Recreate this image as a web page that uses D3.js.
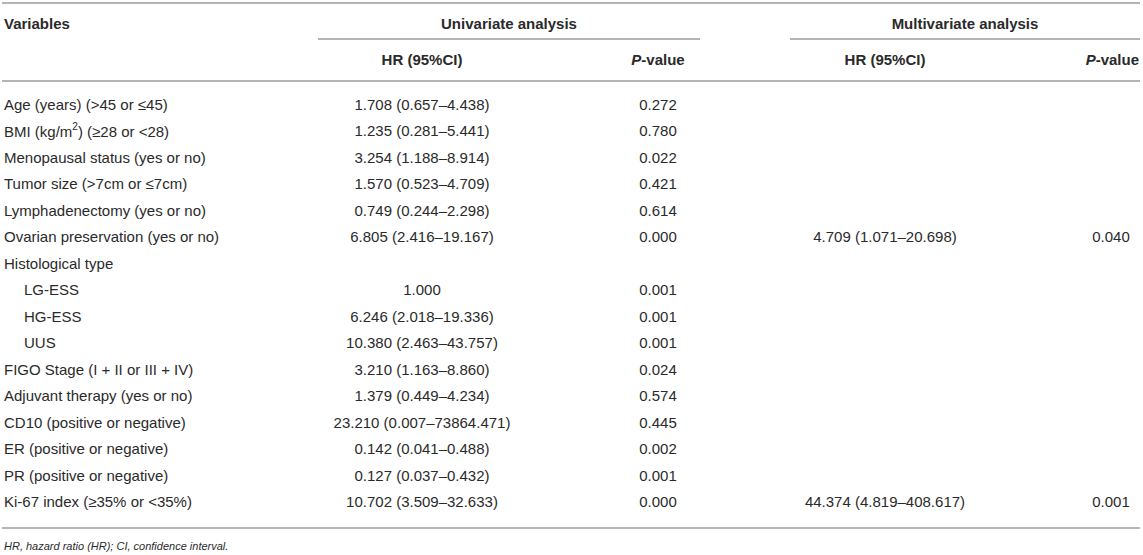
<!DOCTYPE html>
<html>
<head>
<meta charset="utf-8">
<script src="https://cdn.jsdelivr.net/npm/d3@7"></script>
<style>
  html, body { margin: 0; padding: 0; background: #fff; }
  svg { display: block; font-family: "Liberation Sans", Arial, Helvetica, sans-serif; }
</style>
</head>
<body>
<div id="table"></div>
<script>
// donnees du tableau

const variables = [
    "Age (years) (>45 or ≤45)",
    "BMI (kg/m^2) (≥28 or <28)",
    "Menopausal status (yes or no)",
    "Tumor size (>7cm or ≤7cm)",
    "Lymphadenectomy (yes or no)",
    "Ovarian preservation (yes or no)",
    "Histological type",
    "LG-ESS",
    "HG-ESS",
    "UUS",
    "FIGO Stage (I + II or III + IV)",
    "Adjuvant therapy (yes or no)",
    "CD10 (positive or negative)",
    "ER (positive or negative)",
    "PR (positive or negative)",
    "Ki-67 index (≥35% or <35%)"
];

// sous-categories du type histologique (affichees en retrait)
const subTypes = ["LG-ESS", "HG-ESS", "UUS"];

const uniHR = [
    "1.708 (0.657–4.438)", "1.235 (0.281–5.441)", "3.254 (1.188–8.914)", "1.570 (0.523–4.709)",
    "0.749 (0.244–2.298)", "6.805 (2.416–19.167)", "", "1.000", "6.246 (2.018–19.336)",
    "10.380 (2.463–43.757)", "3.210 (1.163–8.860)", "1.379 (0.449–4.234)",
    "23.210 (0.007–73864.471)", "0.142 (0.041–0.488)", "0.127 (0.037–0.432)", "10.702 (3.509–32.633)"
];

const uniP = [
    "0.272", "0.780", "0.022", "0.421", "0.614", "0.000", "", "0.001", "0.001",
    "0.001", "0.024", "0.574", "0.445", "0.002", "0.001", "0.000"
];

const multiHR = [
    "", "", "", "", "", "4.709 (1.071–20.698)", "", "", "",
    "", "", "", "", "", "", "44.374 (4.819–408.617)"
];

const multiP = [
    "", "", "", "", "", "0.040", "", "", "",
    "", "", "", "", "", "", "0.001"
];

const groups = ["Univariate analysis", "Multivariate analysis"];
const columns = ["uniHR", "uniP", "multiHR", "multiP"];
const columnTitles = ["HR (95%CI)", "P-value", "HR (95%CI)", "P-value"];
const footnote = "HR, hazard ratio (HR); CI, confidence interval.";

// mise en page

const width = 1143,
    height = 555,
    textColor = "#2a2a2a",
    ruleColor = "#b4b4b4",
    fontSize = 15;

const svg = d3.select("#table").append("svg")
    .attr("width", width)
    .attr("height", height);

// position verticale des lignes du tableau
const y = d3.scalePoint()
    .domain(d3.range(variables.length))
    .range([104, 501.5]);

// position horizontale (centre) de chaque colonne
const x = d3.scaleOrdinal()
    .domain(columns)
    .range([422, 658, 885, 1111]);

// etendue des groupes d'analyses
const groupX = d3.scaleOrdinal()
    .domain(groups)
    .range([[318, 700], [790, 1140]]);

// traits horizontaux
function rule(x1, x2, yy) {
    svg.append("line")
        .attr("x1", x1).attr("x2", x2)
        .attr("y1", yy).attr("y2", yy)
        .style("stroke", ruleColor)
        .style("stroke-width", 2);
}
rule(2, 1140, 3);
rule(2, 1140, 81);
rule(2, 1140, 528);
groups.forEach(g => rule(groupX(g)[0], groupX(g)[1], 39));

// EN-TETES
svg.append("text")
    .attr("x", 4)
    .attr("y", 23)
    .attr("dominant-baseline", "central")
    .style("font-weight", "bold")
    .style("font-size", fontSize + "px")
    .style("fill", textColor)
    .text("Variables");

svg.selectAll(".group")
    .data(groups)
    .enter().append("text")
    .attr("class", "group")
    .attr("x", d => (groupX(d)[0] + groupX(d)[1]) / 2)
    .attr("y", 23)
    .attr("text-anchor", "middle")
    .attr("dominant-baseline", "central")
    .style("font-weight", "bold")
    .style("font-size", fontSize + "px")
    .style("fill", textColor)
    .text(d => d);

const heads = svg.selectAll(".head")
    .data(columns)
    .enter().append("text")
    .attr("class", "head")
    .attr("x", d => x(d))
    .attr("y", 59)
    .attr("text-anchor", (d, i) => i === 3 ? "end" : "middle")
    .attr("dx", (d, i) => i === 3 ? 28 : 0)
    .attr("dominant-baseline", "central")
    .style("font-weight", "bold")
    .style("font-size", fontSize + "px")
    .style("fill", textColor);

heads.each(function(d, i) {
    const t = d3.select(this);
    const title = columnTitles[i];
    if (title.startsWith("P-")) {
        t.append("tspan").style("font-style", "italic").text("P");
        t.append("tspan").text(title.slice(1));
    } else {
        t.text(title);
    }
});

// COLONNE DES VARIABLES
const labels = svg.selectAll(".variable")
    .data(variables)
    .enter().append("text")
    .attr("class", "variable")
    .attr("x", d => subTypes.includes(d) ? 24 : 4)
    .attr("y", (d, i) => y(i))
    .attr("dominant-baseline", "central")
    .style("font-size", fontSize + "px")
    .style("fill", textColor);

// gestion de l'exposant (kg/m²)
labels.each(function(d) {
    const t = d3.select(this);
    const parts = d.split("^");
    if (parts.length === 1) {
        t.text(d);
        return;
    }
    t.append("tspan").text(parts[0]);
    t.append("tspan")
        .attr("dy", -5)
        .style("font-size", "10px")
        .text(parts[1].charAt(0));
    t.append("tspan")
        .attr("dy", 5)
        .text(parts[1].slice(1));
});

// VALEURS
const values = { uniHR: uniHR, uniP: uniP, multiHR: multiHR, multiP: multiP };

columns.forEach(col => {
    svg.selectAll(".cell-" + col)
        .data(values[col])
        .enter().append("text")
        .attr("class", "cell-" + col)
        .attr("x", x(col))
        .attr("y", (d, i) => y(i))
        .attr("text-anchor", "middle")
        .attr("dominant-baseline", "central")
        .style("font-size", fontSize + "px")
        .style("fill", textColor)
        .text(d => d);
});

// NOTE DE BAS DE TABLEAU
svg.append("text")
    .attr("x", 4)
    .attr("y", 546)
    .attr("dominant-baseline", "central")
    .style("font-style", "italic")
    .style("font-size", "11px")
    .style("fill", textColor)
    .text(footnote);
</script>
</body>
</html>
